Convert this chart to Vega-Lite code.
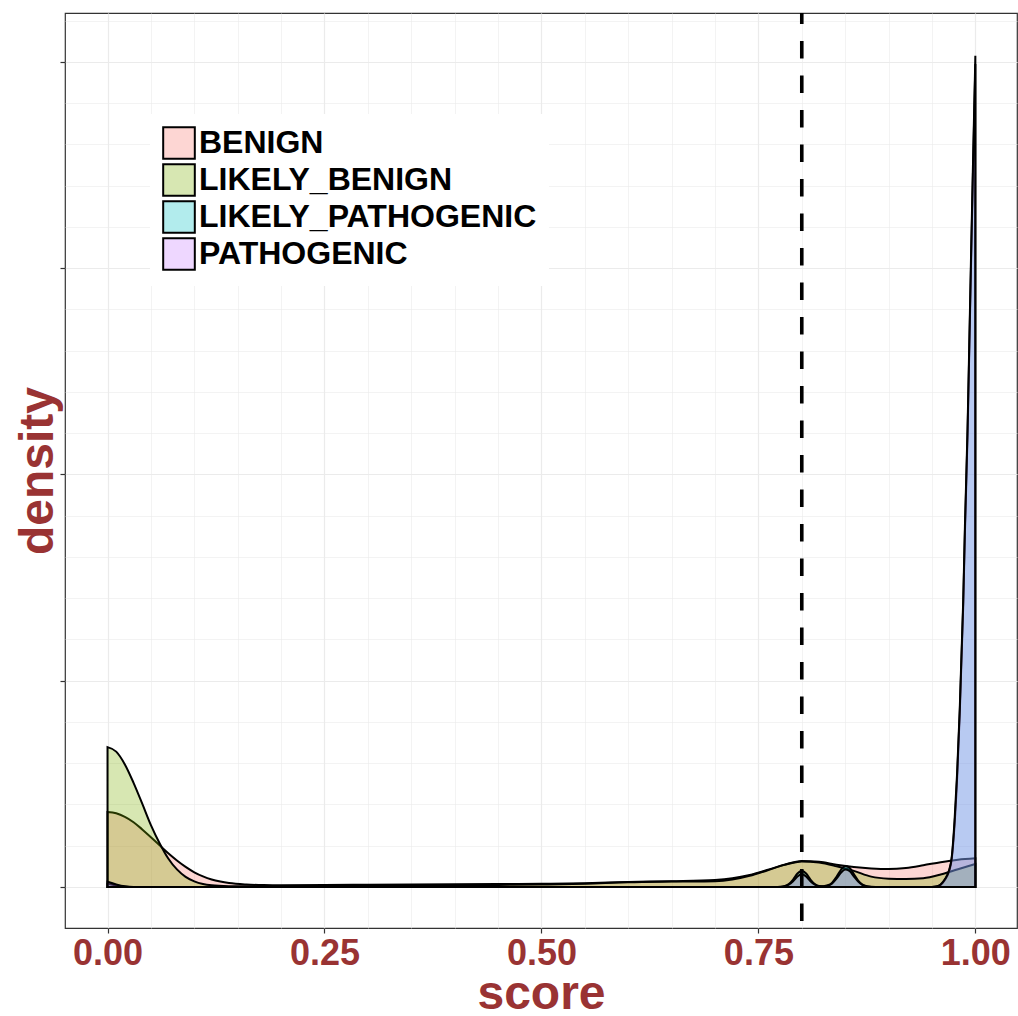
{
  "$schema": "https://vega.github.io/schema/vega-lite/v6.json",
  "width": 952,
  "height": 915,
  "autosize": "none",
  "padding": {"left": 65, "top": 13, "right": 1, "bottom": 88},
  "background": "white",
  "config": {
    "view": {"stroke": "#333333", "strokeWidth": 1.2},
    "font": "Liberation Sans"
  },
  "datasets": {
    "dens": [
      {"group": "BENIGN", "score": 0, "density": 3.63},
      {"group": "BENIGN", "score": 0.01, "density": 3.57},
      {"group": "BENIGN", "score": 0.02, "density": 3.40},
      {"group": "BENIGN", "score": 0.03, "density": 3.14},
      {"group": "BENIGN", "score": 0.04, "density": 2.79},
      {"group": "BENIGN", "score": 0.05, "density": 2.41},
      {"group": "BENIGN", "score": 0.06, "density": 2.02},
      {"group": "BENIGN", "score": 0.07, "density": 1.63},
      {"group": "BENIGN", "score": 0.08, "density": 1.28},
      {"group": "BENIGN", "score": 0.09, "density": 0.97},
      {"group": "BENIGN", "score": 0.10, "density": 0.71},
      {"group": "BENIGN", "score": 0.11, "density": 0.51},
      {"group": "BENIGN", "score": 0.12, "density": 0.36},
      {"group": "BENIGN", "score": 0.13, "density": 0.26},
      {"group": "BENIGN", "score": 0.14, "density": 0.19},
      {"group": "BENIGN", "score": 0.16, "density": 0.12},
      {"group": "BENIGN", "score": 0.18, "density": 0.09},
      {"group": "BENIGN", "score": 0.20, "density": 0.08},
      {"group": "BENIGN", "score": 0.25, "density": 0.09},
      {"group": "BENIGN", "score": 0.30, "density": 0.11},
      {"group": "BENIGN", "score": 0.35, "density": 0.12},
      {"group": "BENIGN", "score": 0.40, "density": 0.13},
      {"group": "BENIGN", "score": 0.45, "density": 0.14},
      {"group": "BENIGN", "score": 0.50, "density": 0.15},
      {"group": "BENIGN", "score": 0.55, "density": 0.18},
      {"group": "BENIGN", "score": 0.60, "density": 0.24},
      {"group": "BENIGN", "score": 0.65, "density": 0.28},
      {"group": "BENIGN", "score": 0.70, "density": 0.34},
      {"group": "BENIGN", "score": 0.72, "density": 0.42},
      {"group": "BENIGN", "score": 0.74, "density": 0.58},
      {"group": "BENIGN", "score": 0.76, "density": 0.82},
      {"group": "BENIGN", "score": 0.78, "density": 1.08},
      {"group": "BENIGN", "score": 0.80, "density": 1.26},
      {"group": "BENIGN", "score": 0.82, "density": 1.22},
      {"group": "BENIGN", "score": 0.84, "density": 1.08},
      {"group": "BENIGN", "score": 0.86, "density": 0.97},
      {"group": "BENIGN", "score": 0.88, "density": 0.90},
      {"group": "BENIGN", "score": 0.90, "density": 0.87},
      {"group": "BENIGN", "score": 0.92, "density": 0.92},
      {"group": "BENIGN", "score": 0.94, "density": 1.05},
      {"group": "BENIGN", "score": 0.96, "density": 1.20},
      {"group": "BENIGN", "score": 0.98, "density": 1.32},
      {"group": "BENIGN", "score": 1.0, "density": 1.39},

      {"group": "LIKELY_BENIGN", "score": 0, "density": 6.78},
      {"group": "LIKELY_BENIGN", "score": 0.01, "density": 6.56},
      {"group": "LIKELY_BENIGN", "score": 0.02, "density": 5.94},
      {"group": "LIKELY_BENIGN", "score": 0.03, "density": 5.05},
      {"group": "LIKELY_BENIGN", "score": 0.04, "density": 4.04},
      {"group": "LIKELY_BENIGN", "score": 0.05, "density": 3.00},
      {"group": "LIKELY_BENIGN", "score": 0.06, "density": 2.12},
      {"group": "LIKELY_BENIGN", "score": 0.07, "density": 1.38},
      {"group": "LIKELY_BENIGN", "score": 0.08, "density": 0.85},
      {"group": "LIKELY_BENIGN", "score": 0.09, "density": 0.49},
      {"group": "LIKELY_BENIGN", "score": 0.10, "density": 0.27},
      {"group": "LIKELY_BENIGN", "score": 0.11, "density": 0.14},
      {"group": "LIKELY_BENIGN", "score": 0.12, "density": 0.08},
      {"group": "LIKELY_BENIGN", "score": 0.14, "density": 0.04},
      {"group": "LIKELY_BENIGN", "score": 0.16, "density": 0.03},
      {"group": "LIKELY_BENIGN", "score": 0.20, "density": 0.04},
      {"group": "LIKELY_BENIGN", "score": 0.25, "density": 0.05},
      {"group": "LIKELY_BENIGN", "score": 0.30, "density": 0.07},
      {"group": "LIKELY_BENIGN", "score": 0.35, "density": 0.08},
      {"group": "LIKELY_BENIGN", "score": 0.40, "density": 0.09},
      {"group": "LIKELY_BENIGN", "score": 0.45, "density": 0.10},
      {"group": "LIKELY_BENIGN", "score": 0.50, "density": 0.12},
      {"group": "LIKELY_BENIGN", "score": 0.55, "density": 0.16},
      {"group": "LIKELY_BENIGN", "score": 0.60, "density": 0.23},
      {"group": "LIKELY_BENIGN", "score": 0.65, "density": 0.26},
      {"group": "LIKELY_BENIGN", "score": 0.70, "density": 0.28},
      {"group": "LIKELY_BENIGN", "score": 0.72, "density": 0.36},
      {"group": "LIKELY_BENIGN", "score": 0.74, "density": 0.54},
      {"group": "LIKELY_BENIGN", "score": 0.76, "density": 0.80},
      {"group": "LIKELY_BENIGN", "score": 0.78, "density": 1.07},
      {"group": "LIKELY_BENIGN", "score": 0.80, "density": 1.24},
      {"group": "LIKELY_BENIGN", "score": 0.82, "density": 1.18},
      {"group": "LIKELY_BENIGN", "score": 0.84, "density": 1.00},
      {"group": "LIKELY_BENIGN", "score": 0.86, "density": 0.78},
      {"group": "LIKELY_BENIGN", "score": 0.88, "density": 0.50},
      {"group": "LIKELY_BENIGN", "score": 0.90, "density": 0.40},
      {"group": "LIKELY_BENIGN", "score": 0.92, "density": 0.38},
      {"group": "LIKELY_BENIGN", "score": 0.94, "density": 0.42},
      {"group": "LIKELY_BENIGN", "score": 0.96, "density": 0.60},
      {"group": "LIKELY_BENIGN", "score": 0.98, "density": 0.86},
      {"group": "LIKELY_BENIGN", "score": 1.0, "density": 1.11},

      {"group": "LIKELY_PATHOGENIC", "score": 0, "density": 0.15},
      {"group": "LIKELY_PATHOGENIC", "score": 0.01, "density": 0.07},
      {"group": "LIKELY_PATHOGENIC", "score": 0.02, "density": 0.01},
      {"group": "LIKELY_PATHOGENIC", "score": 0.03, "density": 0},
      {"group": "LIKELY_PATHOGENIC", "score": 0.77, "density": 0},
      {"group": "LIKELY_PATHOGENIC", "score": 0.775, "density": 0.01},
      {"group": "LIKELY_PATHOGENIC", "score": 0.78, "density": 0.035},
      {"group": "LIKELY_PATHOGENIC", "score": 0.785, "density": 0.14},
      {"group": "LIKELY_PATHOGENIC", "score": 0.79, "density": 0.36},
      {"group": "LIKELY_PATHOGENIC", "score": 0.795, "density": 0.65},
      {"group": "LIKELY_PATHOGENIC", "score": 0.80, "density": 0.79},
      {"group": "LIKELY_PATHOGENIC", "score": 0.805, "density": 0.65},
      {"group": "LIKELY_PATHOGENIC", "score": 0.81, "density": 0.36},
      {"group": "LIKELY_PATHOGENIC", "score": 0.815, "density": 0.14},
      {"group": "LIKELY_PATHOGENIC", "score": 0.82, "density": 0.05},
      {"group": "LIKELY_PATHOGENIC", "score": 0.825, "density": 0.04},
      {"group": "LIKELY_PATHOGENIC", "score": 0.83, "density": 0.08},
      {"group": "LIKELY_PATHOGENIC", "score": 0.835, "density": 0.21},
      {"group": "LIKELY_PATHOGENIC", "score": 0.84, "density": 0.49},
      {"group": "LIKELY_PATHOGENIC", "score": 0.845, "density": 0.82},
      {"group": "LIKELY_PATHOGENIC", "score": 0.85, "density": 1.02},
      {"group": "LIKELY_PATHOGENIC", "score": 0.855, "density": 0.93},
      {"group": "LIKELY_PATHOGENIC", "score": 0.86, "density": 0.62},
      {"group": "LIKELY_PATHOGENIC", "score": 0.865, "density": 0.31},
      {"group": "LIKELY_PATHOGENIC", "score": 0.87, "density": 0.11},
      {"group": "LIKELY_PATHOGENIC", "score": 0.875, "density": 0.03},
      {"group": "LIKELY_PATHOGENIC", "score": 0.88, "density": 0.005},
      {"group": "LIKELY_PATHOGENIC", "score": 0.885, "density": 0},
      {"group": "LIKELY_PATHOGENIC", "score": 0.95, "density": 0},
      {"group": "LIKELY_PATHOGENIC", "score": 0.955, "density": 0.02},
      {"group": "LIKELY_PATHOGENIC", "score": 0.96, "density": 0.1},
      {"group": "LIKELY_PATHOGENIC", "score": 0.965, "density": 0.35},
      {"group": "LIKELY_PATHOGENIC", "score": 0.97, "density": 0.8},
      {"group": "LIKELY_PATHOGENIC", "score": 0.9726, "density": 1.3},
      {"group": "LIKELY_PATHOGENIC", "score": 0.976, "density": 3.0},
      {"group": "LIKELY_PATHOGENIC", "score": 0.979, "density": 5.3},
      {"group": "LIKELY_PATHOGENIC", "score": 0.982, "density": 8.4},
      {"group": "LIKELY_PATHOGENIC", "score": 0.986, "density": 13.6},
      {"group": "LIKELY_PATHOGENIC", "score": 0.988, "density": 17.2},
      {"group": "LIKELY_PATHOGENIC", "score": 0.991, "density": 21.9},
      {"group": "LIKELY_PATHOGENIC", "score": 0.993, "density": 26.0},
      {"group": "LIKELY_PATHOGENIC", "score": 0.995, "density": 30.1},
      {"group": "LIKELY_PATHOGENIC", "score": 0.997, "density": 34.1},
      {"group": "LIKELY_PATHOGENIC", "score": 0.9985, "density": 37.0},
      {"group": "LIKELY_PATHOGENIC", "score": 0.9995, "density": 38.9},
      {"group": "LIKELY_PATHOGENIC", "score": 1.0, "density": 39.9},

      {"group": "PATHOGENIC", "score": 0, "density": 0.25},
      {"group": "PATHOGENIC", "score": 0.01, "density": 0.12},
      {"group": "PATHOGENIC", "score": 0.02, "density": 0.03},
      {"group": "PATHOGENIC", "score": 0.03, "density": 0},
      {"group": "PATHOGENIC", "score": 0.775, "density": 0},
      {"group": "PATHOGENIC", "score": 0.78, "density": 0.03},
      {"group": "PATHOGENIC", "score": 0.785, "density": 0.11},
      {"group": "PATHOGENIC", "score": 0.79, "density": 0.28},
      {"group": "PATHOGENIC", "score": 0.795, "density": 0.51},
      {"group": "PATHOGENIC", "score": 0.80, "density": 0.62},
      {"group": "PATHOGENIC", "score": 0.805, "density": 0.51},
      {"group": "PATHOGENIC", "score": 0.81, "density": 0.28},
      {"group": "PATHOGENIC", "score": 0.815, "density": 0.11},
      {"group": "PATHOGENIC", "score": 0.82, "density": 0.04},
      {"group": "PATHOGENIC", "score": 0.825, "density": 0.03},
      {"group": "PATHOGENIC", "score": 0.83, "density": 0.06},
      {"group": "PATHOGENIC", "score": 0.835, "density": 0.17},
      {"group": "PATHOGENIC", "score": 0.84, "density": 0.40},
      {"group": "PATHOGENIC", "score": 0.845, "density": 0.68},
      {"group": "PATHOGENIC", "score": 0.85, "density": 0.85},
      {"group": "PATHOGENIC", "score": 0.855, "density": 0.77},
      {"group": "PATHOGENIC", "score": 0.86, "density": 0.51},
      {"group": "PATHOGENIC", "score": 0.865, "density": 0.26},
      {"group": "PATHOGENIC", "score": 0.87, "density": 0.09},
      {"group": "PATHOGENIC", "score": 0.875, "density": 0.025},
      {"group": "PATHOGENIC", "score": 0.88, "density": 0},
      {"group": "PATHOGENIC", "score": 0.95, "density": 0},
      {"group": "PATHOGENIC", "score": 0.955, "density": 0.02},
      {"group": "PATHOGENIC", "score": 0.96, "density": 0.12},
      {"group": "PATHOGENIC", "score": 0.965, "density": 0.38},
      {"group": "PATHOGENIC", "score": 0.97, "density": 0.85},
      {"group": "PATHOGENIC", "score": 0.9726, "density": 1.38},
      {"group": "PATHOGENIC", "score": 0.976, "density": 3.2},
      {"group": "PATHOGENIC", "score": 0.979, "density": 5.53},
      {"group": "PATHOGENIC", "score": 0.982, "density": 8.6},
      {"group": "PATHOGENIC", "score": 0.986, "density": 13.85},
      {"group": "PATHOGENIC", "score": 0.988, "density": 17.5},
      {"group": "PATHOGENIC", "score": 0.991, "density": 22.2},
      {"group": "PATHOGENIC", "score": 0.993, "density": 26.3},
      {"group": "PATHOGENIC", "score": 0.995, "density": 30.5},
      {"group": "PATHOGENIC", "score": 0.997, "density": 34.5},
      {"group": "PATHOGENIC", "score": 0.9985, "density": 37.4},
      {"group": "PATHOGENIC", "score": 0.9995, "density": 39.3},
      {"group": "PATHOGENIC", "score": 1.0, "density": 40.3}
    ],
    "threshold": [{"score": 0.8}]
  },
  "layer": [
    {
      "data": {"name": "dens"},
      "mark": {"type": "area", "fillOpacity": 0.3, "stroke": "black", "strokeWidth": 2, "interpolate": "monotone", "clip": true},
      "encoding": {
        "x": {
          "field": "score", "type": "quantitative",
          "scale": {"domain": [-0.049, 1.048], "nice": false, "zero": false},
          "axis": {
            "title": "score",
            "titleFont": "Liberation Sans", "titleFontWeight": "bold", "titleFontSize": 48, "titleColor": "#993333",
            "titlePadding": -1,
            "tickValues": [0, 0.125, 0.25, 0.375, 0.5, 0.625, 0.75, 0.875, 1],
            "labelExpr": "(datum.value * 8) % 2 == 0 ? format(datum.value, '.2f') : ''",
            "labelFont": "Liberation Sans", "labelFontWeight": "bold", "labelFontSize": 36, "labelColor": "#993333",
            "labelPadding": 3, "labelOverlap": false, "labelFlush": false, "labelBound": false,
            "domain": false,
            "tickColor": "#333333", "tickSize": 5, "tickWidth": 1.2,
            "tickOpacity": {"condition": {"test": "(datum.value * 8) % 2 != 0", "value": 0}, "value": 1},
            "grid": true, "gridColor": "#EBEBEB",
            "gridWidth": {"condition": {"test": "(datum.value * 8) % 2 != 0", "value": 0.6}, "value": 1.2}
          }
        },
        "y": {
          "field": "density", "type": "quantitative", "stack": null,
          "scale": {"domain": [-1.99, 42.37], "nice": false, "zero": false},
          "axis": {
            "title": "density",
            "titleFont": "Liberation Sans", "titleFontWeight": "bold", "titleFontSize": 48, "titleColor": "#993333",
            "titlePadding": -3,
            "tickValues": [0, 5, 10, 15, 20, 25, 30, 35, 40],
            "labels": false,
            "domain": false,
            "tickColor": "#333333", "tickSize": 5, "tickWidth": 1.2,
            "tickOpacity": {"condition": {"test": "datum.value % 10 != 0", "value": 0}, "value": 1},
            "grid": true, "gridColor": "#EBEBEB",
            "gridWidth": {"condition": {"test": "datum.value % 10 != 0", "value": 0.6}, "value": 1.2}
          }
        },
        "color": {
          "field": "group", "type": "nominal",
          "scale": {"domain": ["BENIGN", "LIKELY_BENIGN", "LIKELY_PATHOGENIC", "PATHOGENIC"], "range": ["#F8766D", "#7CAE00", "#00BFC4", "#C77CFF"]},
          "legend": {
            "title": null,
            "orient": "none", "legendX": 85, "legendY": 101,
            "fillColor": "white", "padding": 12,
            "labelFont": "Liberation Sans", "labelFontWeight": "bold", "labelFontSize": 32, "labelColor": "black",
            "labelLimit": 0, "labelOffset": 3,
            "symbolType": "square", "symbolSize": 1000,
            "symbolStrokeColor": "black", "symbolStrokeWidth": 2,
            "rowPadding": -10,
            "encode": {"symbols": {"update": {"fillOpacity": {"value": 0.3}, "stroke": {"value": "black"}, "strokeWidth": {"value": 2}, "opacity": {"value": 1}}}}
          }
        }
      }
    },
    {
      "data": {"name": "threshold"},
      "mark": {"type": "rule", "color": "black", "strokeWidth": 3.6, "strokeDash": [17.5, 17], "strokeDashOffset": 6.5},
      "encoding": {
        "x": {"field": "score", "type": "quantitative"}
      }
    }
  ]
}
